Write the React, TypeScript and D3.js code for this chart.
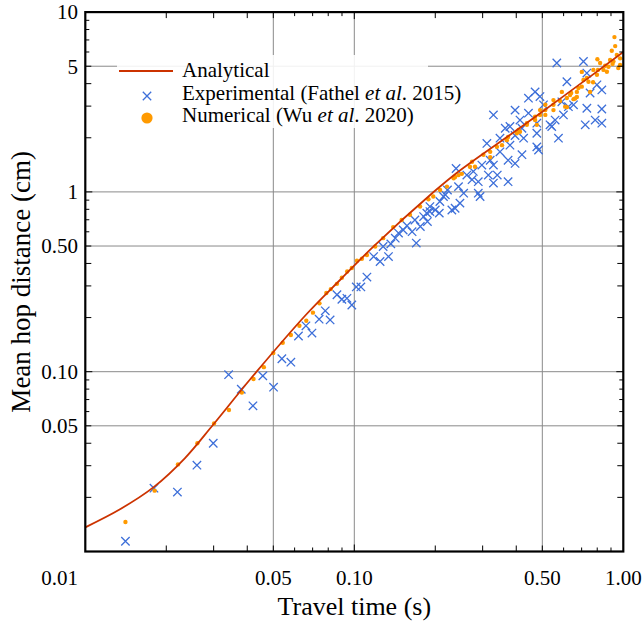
import React from 'react';
import * as d3 from 'd3';

const W = 642;
const H = 621;

// Analytical curve (travel time s, mean hop distance cm)
const analytical: [number, number][] = [
  [0.01, 0.01363], [0.01346, 0.01717], [0.018, 0.02287], [0.02348, 0.03308], [0.02991, 0.05084],
  [0.04095, 0.0905], [0.06653, 0.2094], [0.08848, 0.3236], [0.1177, 0.4956],
  [0.1966, 0.995], [0.2435, 1.295], [0.4133, 2.273], [0.5984, 3.398], [1.0, 6.0],
];

// Experimental (Fathel et al. 2015)
const experimental: [number, number][] = [
  [0.0141, 0.0114], [0.018, 0.0225], [0.022, 0.0214], [0.026, 0.0302], [0.0299, 0.04], [0.0341, 0.0963],
  [0.038, 0.0799], [0.042, 0.0646], [0.0457, 0.0948], [0.0501, 0.082],
  [0.0538, 0.118], [0.0581, 0.113], [0.062, 0.158], [0.0661, 0.18], [0.0696, 0.164], [0.074, 0.196],
  [0.078, 0.218], [0.0813, 0.194], [0.0862, 0.268], [0.0899, 0.253], [0.0939, 0.256], [0.0979, 0.235],
  [0.1017, 0.296], [0.1058, 0.296], [0.1114, 0.336],
  [0.118, 0.437], [0.1247, 0.41], [0.134, 0.437], [0.128, 0.497], [0.1367, 0.514], [0.142, 0.553],
  [0.146, 0.59], [0.152, 0.614], [0.157, 0.648], [0.164, 0.601], [0.17, 0.519], [0.168, 0.698],
  [0.176, 0.642], [0.181, 0.729], [0.187, 0.684], [0.191, 0.777], [0.2, 0.793], [0.207, 0.762],
  [0.208, 0.884], [0.2145, 0.943], [0.222, 1.025], [0.2305, 0.793], [0.237, 0.811], [0.239, 1.35],
  [0.244, 1.07], [0.191, 0.829], [0.186, 0.762],
  [0.444, 3.32], [0.49, 3.39], [0.505, 3.05], [0.329, 2.68], [0.396, 2.85], [0.413, 2.51], [0.444, 2.74],
  [0.379, 2.31], [0.42, 2.26], [0.477, 2.41], [0.534, 2.36], [0.558, 2.51], [0.599, 2.68], [0.625, 2.98],
  [0.732, 2.92], [0.832, 2.89], [0.786, 2.51], [0.832, 2.41], [0.722, 2.36], [0.591, 3.17], [0.653, 3.05],
  [0.542, 2.31], [0.574, 1.99], [0.477, 2.12], [0.477, 1.78], [0.484, 1.71], [0.426, 1.99], [0.396, 2.06],
  [0.364, 2.26], [0.348, 1.99], [0.379, 1.82], [0.311, 1.86], [0.42, 1.61], [0.396, 1.44], [0.348, 1.67],
  [0.32, 1.5], [0.373, 1.5], [0.329, 1.41], [0.34, 1.24], [0.373, 1.14], [0.315, 1.24], [0.298, 1.41],
  [0.277, 1.3], [0.262, 1.24], [0.274, 1.17], [0.289, 1.14], [0.329, 1.12], [0.255, 0.984], [0.289, 0.984],
  [0.2935, 0.943], [0.218, 0.963], [0.247, 0.866],
  [0.566, 5.21], [0.711, 5.31], [0.617, 4.1], [0.732, 4.58], [0.798, 3.94], [0.832, 3.69], [0.7525, 3.55],
  [0.47, 3.6],
];

// Numerical (Wu et al. 2020)
const numerical: [number, number][] = [
  [0.0141, 0.0146], [0.0181, 0.0218], [0.0221, 0.0305], [0.0261, 0.04], [0.0301, 0.0515], [0.0342, 0.0612],
  [0.0382, 0.0765], [0.0422, 0.0911], [0.0461, 0.106], [0.05, 0.127], [0.0542, 0.145], [0.0581, 0.16],
  [0.0625, 0.18], [0.0663, 0.192], [0.0702, 0.213], [0.0742, 0.24], [0.0787, 0.274], [0.0818, 0.288],
  [0.0862, 0.308], [0.0899, 0.333], [0.0941, 0.361], [0.0979, 0.377], [0.1023, 0.414], [0.1067, 0.425],
  [0.1114, 0.446], [0.1196, 0.497], [0.128, 0.553], [0.1395, 0.637], [0.15, 0.698], [0.161, 0.746],
  [0.1756, 0.829], [0.1886, 0.911], [0.1966, 0.943], [0.2084, 1.025], [0.221, 1.07], [0.234, 1.19],
  [0.244, 1.24], [0.269, 1.38], [0.32, 1.67], [0.369, 1.94], [0.413, 2.16], [0.438, 2.41],
  [0.927, 7.26], [0.933, 6.47], [0.906, 6.1], [0.946, 5.78], [0.801, 5.47], [0.701, 4.65], [0.701, 3.85],
  [0.7525, 3.6], [0.617, 2.96], [0.662, 3.31], [0.672, 3.6], [0.591, 3.6], [0.844, 4.77], [0.881, 4.97],
  [0.958, 4.88], [0.973, 5.08], [0.919, 5.31], [0.82, 5.21], [0.774, 4.77], [0.732, 4.3], [0.634, 3.46],
  [0.55, 3.24], [0.513, 3.05], [0.4905, 2.85], [0.47, 2.62], [0.742, 4.1], [0.798, 4.48], [0.869, 4.66],
  [0.237, 1.21], [0.251, 1.26], [0.274, 1.47], [0.302, 1.61], [0.339, 1.78], [0.373, 2.02], [0.408, 2.21],
  [0.438, 2.36], [0.47, 2.51], [0.4905, 2.68], [0.513, 2.85], [0.55, 3.05], [0.582, 3.2], [0.617, 3.33],
  [0.653, 3.28], [0.672, 3.37], [0.608, 2.98], [0.402, 2.12], [0.354, 1.82], [0.32, 1.56], [0.513, 2.68],
  [0.55, 2.85], [0.477, 2.36], [0.281, 1.38],
  [0.711, 4.19], [0.805, 4.77], [0.893, 5.42], [0.856, 5.03], [0.973, 5.53], [0.912, 5.15], [0.772, 4.07],
  [0.681, 3.78], [0.64, 3.55],
];

const xDecades = [0.01, 0.1];
const yDecades = [0.01, 0.1, 1];
const xGrid = [0.05, 0.1, 0.5];
const yGrid = [0.05, 0.1, 0.5, 1, 5];
const xTickLabels: [number, string][] = [[0.05, '0.05'], [0.1, '0.10'], [0.5, '0.50'], [1, '1.00']];
const yTickLabels: [number, string][] = [[10, '10'], [5, '5'], [1, '1'], [0.5, '0.50'], [0.1, '0.10'], [0.05, '0.05']];
const legendLabels = ['Analytical', 'Experimental', 'Numerical'];

const FONT = '"Liberation Serif", "Times New Roman", Times, serif';
const RED = '#cc3300';
const BLUE = '#3d6fd9';
const ORANGE = '#ff9a00';
const GRID = '#8a8a8a';

export default function App() {
  const left = 85.3, right = 623.3, top = 12.1, bottom = 551.5;
  const x = d3.scaleLog().domain([0.01, 1]).range([left, right]);
  const y = d3.scaleLog().domain([0.01, 10]).range([bottom, top]);

  const line = d3.line<[number, number]>()
    .x(d => x(d[0]))
    .y(d => y(d[1]))
    .curve(d3.curveCatmullRom.alpha(0.5));

  const minor = (decades: number[]) => {
    const out: { v: number; len: number }[] = [];
    decades.forEach(d => {
      for (let m = 2; m <= 9; m++) out.push({ v: m * d, len: m <= 5 ? 6 : 4 });
    });
    return out;
  };
  const xTicks = minor(xDecades).concat([{ v: 0.1, len: 7 }]);
  const yTicks = minor(yDecades).concat([{ v: 0.1, len: 7 }, { v: 1, len: 7 }]);

  const cs = 4.2;
  const cross = (cx: number, cy: number, key: string | number) => (
    <path key={key} d={`M${cx - cs},${cy - cs}L${cx + cs},${cy + cs}M${cx - cs},${cy + cs}L${cx + cs},${cy - cs}`}
      stroke={BLUE} strokeWidth={1.3} fill="none" />
  );

  return (
    <svg width={W} height={H} style={{ position: 'absolute', left: 0, top: 0, background: '#fff' }}
      fontFamily={FONT}>
      <rect x={0} y={0} width={W} height={H} fill="#fff" />
      {/* grid */}
      {xGrid.map(v => (
        <line key={'gx' + v} x1={x(v)} x2={x(v)} y1={top} y2={bottom} stroke={GRID} strokeWidth={1} />
      ))}
      {yGrid.map(v => (
        <line key={'gy' + v} x1={left} x2={right} y1={y(v)} y2={y(v)} stroke={GRID} strokeWidth={1} />
      ))}
      {/* experimental */}
      <g>{experimental.map((d, i) => cross(x(d[0]), y(d[1]), i))}</g>
      {/* numerical */}
      <g>{numerical.map((d, i) => (
        <circle key={i} cx={x(d[0])} cy={y(d[1])} r={2.2} fill={ORANGE} />
      ))}</g>
      {/* analytical */}
      <path d={line(analytical) || ''} fill="none" stroke={RED} strokeWidth={1.8} />

      {/* legend */}
      <rect x={117} y={55} width={311} height={73} fill="#fff" opacity={0.88} />
      <line x1={119} x2={173} y1={71} y2={71} stroke={RED} strokeWidth={2} />
      {cross(147, 96, 'lc')}
      <circle cx={147} cy={118} r={5.6} fill={ORANGE} />
      <g fontSize={21} fill="#000">
        <text x={182} y={77}>{legendLabels[0]}</text>
        <text x={182} y={100}>{legendLabels[1]} (Fathel <tspan fontStyle="italic">et al</tspan>. 2015)</text>
        <text x={182} y={122}>{legendLabels[2]} (Wu <tspan fontStyle="italic">et al</tspan>. 2020)</text>
      </g>

      {/* ticks */}
      {xTicks.map((t, i) => (
        <g key={'xt' + i}>
          <line x1={x(t.v)} x2={x(t.v)} y1={bottom} y2={bottom - t.len} stroke="#000" strokeWidth={1} />
          <line x1={x(t.v)} x2={x(t.v)} y1={top} y2={top + t.len} stroke="#000" strokeWidth={1} />
        </g>
      ))}
      {yTicks.map((t, i) => (
        <g key={'yt' + i}>
          <line x1={left} x2={left + t.len} y1={y(t.v)} y2={y(t.v)} stroke="#000" strokeWidth={1} />
          <line x1={right} x2={right - t.len} y1={y(t.v)} y2={y(t.v)} stroke="#000" strokeWidth={1} />
        </g>
      ))}
      {/* frame */}
      <rect x={left} y={top} width={right - left} height={bottom - top} fill="none" stroke="#000" strokeWidth={2.2} />

      {/* tick labels */}
      <g fontSize={21} fill="#000">
        {xTickLabels.map(([v, s]) => (
          <text key={'xl' + v} x={x(v)} y={585} textAnchor="middle">{s}</text>
        ))}
        <text x={78} y={585} textAnchor="end">0.01</text>
        {yTickLabels.map(([v, s]) => (
          <text key={'yl' + v} x={78} y={y(v)} dy="0.35em" textAnchor="end">{s}</text>
        ))}
      </g>
      {/* axis titles */}
      <text x={(left + right) / 2} y={615} fontSize={26} textAnchor="middle">Travel time (s)</text>
      <text transform={`translate(30,${(top + bottom) / 2}) rotate(-90)`} fontSize={27} textAnchor="middle">
        Mean hop distance (cm)
      </text>
    </svg>
  );
}
